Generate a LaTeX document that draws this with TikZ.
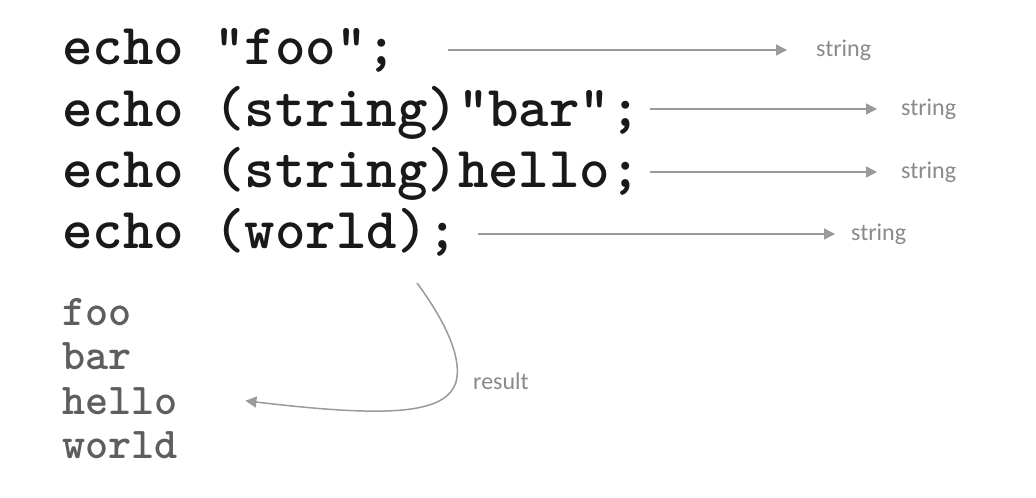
\documentclass[tikz,border=0pt]{standalone}
\usepackage{fontspec}
\setmonofont{Latin Modern Mono Light}
\newfontfamily\handfont{Carlito}
\usetikzlibrary{arrows.meta}
\definecolor{resgray}{HTML}{5E5E5E}
\definecolor{linegray}{HTML}{9A9A9A}
\definecolor{labelgray}{HTML}{8A8A8A}

\begin{document}
\begin{tikzpicture}[x=1bp,y=-1bp,every node/.style={inner sep=0pt},
        >={Triangle[length=.1bp,width=.1bp,sep=5bp]Triangle[length=11bp,width=11bp]},
        code/.style={anchor=base west,font=\fontsize{58bp}{66bp}\ttfamily\bfseries,text=black!90},
        res/.style={anchor=base west,font=\fontsize{44bp}{52bp}\ttfamily\bfseries,text=resgray},
        lbl/.style={anchor=west,font=\fontsize{24bp}{28bp}\handfont,text=labelgray},
        link/.style={->,linegray,line width=1.5bp}]
  \useasboundingbox[fill=white](0,0)rectangle(1036,498);
  \node[code](c1)at(62,65){echo “foo”;};
  \node[code](c2)at(62,127){echo (string)”bar”;};
  \node[code](c3)at(62,188){echo (string)hello;};
  \node[code](c4)at(62,249){echo (world);};
  \node[res](r1)at(62,326){foo};
  \node[res](r2)at(62,370){bar};
  \node[res](r3)at(62,414){hello};
  \node[res](r4)at(62,458){world};
  \node[lbl](s1)at(816,50){string};
  \node[lbl](s2)at(901,109){string};
  \node[lbl](s3)at(901,172){string};
  \node[lbl](s4)at(851,234){string};
  \draw[link,shorten <=51bp,shorten >=29bp](c1.east|-s1.west)--(s1.west);
  \draw[link,shorten <=9bp,shorten >=24bp](c2.east|-s2.west)--(s2.west);
  \draw[link,shorten <=9bp,shorten >=24bp](c3.east|-s3.west)--(s3.west);
  \draw[link,shorten <=20bp,shorten >=16bp](c4.east|-s4.west)--(s4.west);
  \coordinate(rs)at(417,283);
  \draw[link,shorten >=68bp](rs)..controls(448,325)and(462,360)..(456,382)
     ..controls(446,414)and(390,418)..([yshift=8bp]r3.east);
  \node[lbl](rl)at(473,381){result};
\end{tikzpicture}
\end{document}
